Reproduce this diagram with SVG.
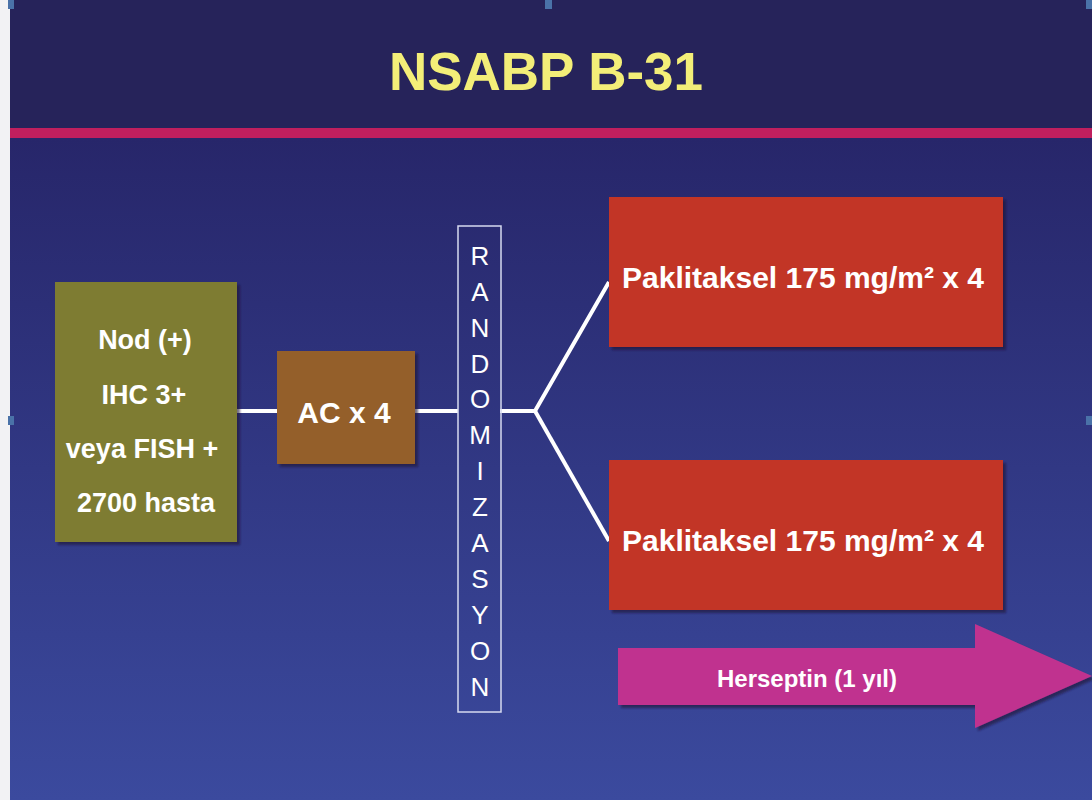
<svg xmlns="http://www.w3.org/2000/svg" width="1092" height="800" viewBox="0 0 1092 800">
<defs>
<linearGradient id="bg" x1="0" y1="0" x2="0" y2="1">
<stop offset="0" stop-color="#27266A"/>
<stop offset="1" stop-color="#3B4A9E"/>
</linearGradient>
<filter id="sh" x="-10%" y="-10%" width="120%" height="130%">
<feDropShadow dx="3" dy="3" stdDeviation="1.2" flood-color="#1a1530" flood-opacity="0.6"/>
</filter>
<style>
.t{font-family:"Liberation Sans",Arial,sans-serif;font-weight:bold;fill:#FFFFFF;text-anchor:middle}
.r{font-family:"Liberation Sans",Arial,sans-serif;fill:#FFFFFF;text-anchor:middle;font-size:26px}
.c{stroke:#FFFFFF;stroke-width:4;fill:none}
.hd{fill:#4A72A8}
</style>
</defs>
<rect x="0" y="0" width="1092" height="800" fill="#F2F2F4"/>
<rect x="10" y="138" width="1082" height="662" fill="url(#bg)"/>
<rect x="10" y="0" width="1082" height="128" fill="#26235A"/>
<rect x="10" y="128" width="1082" height="10" fill="#C01F5E"/>
<rect class="hd" x="8" y="0" width="6" height="9"/>
<rect class="hd" x="545" y="0" width="7" height="9"/>
<rect class="hd" x="1086" y="0" width="6" height="9"/>
<rect class="hd" x="8" y="416" width="6" height="9"/>
<rect class="hd" x="1086" y="416" width="6" height="9"/>
<text x="546" y="90" font-family="Liberation Sans,Arial,sans-serif" font-weight="bold" font-size="53" fill="#F3EE78" text-anchor="middle">NSABP B-31</text>
<g id="connectors">
<line class="c" x1="237" y1="411" x2="277" y2="411"/>
<line class="c" x1="415" y1="411" x2="458" y2="411"/>
<polyline class="c" points="500,411 535,411 609,282"/>
<polyline class="c" points="535,411 609,541"/>
</g>
<g id="node-patient">
<rect x="55" y="282" width="182" height="260" fill="#7E7C32" filter="url(#sh)"/>
<text class="t" x="145" y="349" font-size="27">Nod (+)</text>
<text class="t" x="144" y="404" font-size="27">IHC 3+</text>
<text class="t" x="142" y="458" font-size="27">veya FISH +</text>
<text class="t" x="146" y="512" font-size="27">2700 hasta</text>
</g>
<g id="node-ac">
<rect x="277" y="351" width="138" height="113" fill="#945F2A" filter="url(#sh)"/>
<text class="t" x="344" y="423" font-size="30">AC x 4</text>
</g>
<g id="node-random">
<rect x="458" y="226" width="43" height="486" fill="none" stroke="#D6DAF0" stroke-width="1.5"/>
<text class="r" x="480" y="265">R</text>
<text class="r" x="480" y="301">A</text>
<text class="r" x="480" y="337">N</text>
<text class="r" x="480" y="373">D</text>
<text class="r" x="480" y="408">O</text>
<text class="r" x="480" y="444">M</text>
<text class="r" x="480" y="480">I</text>
<text class="r" x="480" y="516">Z</text>
<text class="r" x="480" y="552">A</text>
<text class="r" x="480" y="588">S</text>
<text class="r" x="480" y="624">Y</text>
<text class="r" x="480" y="660">O</text>
<text class="r" x="480" y="696">N</text>
</g>
<g id="node-pac1">
<rect x="609" y="197" width="394" height="150" fill="#C23527" filter="url(#sh)"/>
<text class="t" x="803" y="288" font-size="30">Paklitaksel 175 mg/m² x 4</text>
</g>
<g id="node-pac2">
<rect x="609" y="460" width="394" height="150" fill="#C23527" filter="url(#sh)"/>
<text class="t" x="803" y="551" font-size="30">Paklitaksel 175 mg/m² x 4</text>
</g>
<g id="node-herceptin">
<polygon points="618,648 975,648 975,624 1092,676 975,728 975,705 618,705" fill="#C0338F" filter="url(#sh)"/>
<text class="t" x="807" y="687" font-size="24">Herseptin (1 yıl)</text>
</g>
</svg>
